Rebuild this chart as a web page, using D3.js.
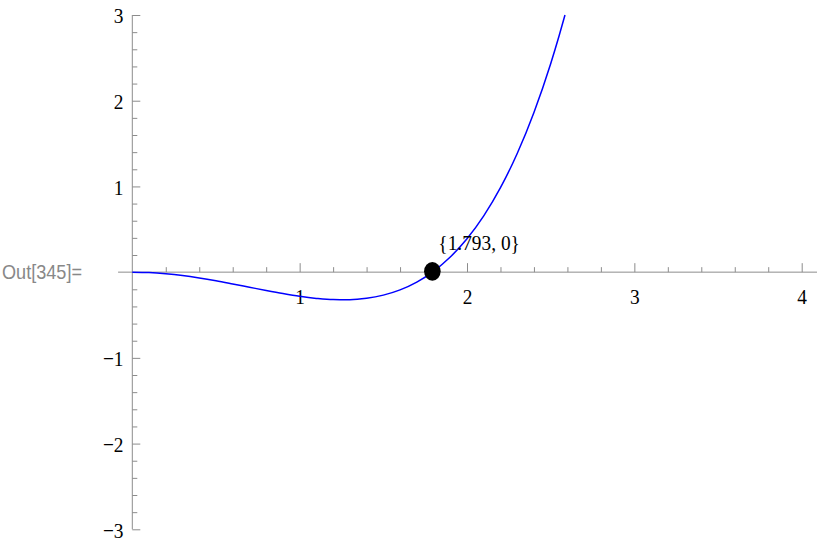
<!DOCTYPE html>
<html><head><meta charset="utf-8">
<script src="https://cdn.jsdelivr.net/npm/d3@7"></script>
<style>
html,body{margin:0;padding:0;background:#fff;}
svg{display:block;}
</style></head>
<body>
<svg id="c" width="817" height="545"></svg>
<script>
// ---- data ----
const curveX = [0,0.1,0.2,0.3,0.4,0.5,0.6,0.7,0.8,0.9,1.0,1.1,1.2,1.3,1.4,1.5,1.6,1.7,1.8,1.9,2.0,2.1,2.2,2.3,2.4,2.5,2.55,2.5855];
const curveY = [0,-0.005,-0.019,-0.040,-0.068,-0.101,-0.138,-0.176,-0.214,-0.250,-0.282,-0.306,-0.320,-0.321,-0.305,-0.268,-0.207,-0.116,0.010,0.176,0.389,0.656,0.985,1.384,1.863,2.432,2.755,3.0];
const rootPoint = [1.793, 0];
const rootLabel = "{1.793, 0}";
const xMajorTicks = [1,2,3,4];
const xMinorTicks = [0.2,0.4,0.6,0.8,1.2,1.4,1.6,1.8,2.2,2.4,2.6,2.8,3.2,3.4,3.6,3.8];
const yMajorTicks = [-3,-2,-1,1,2,3];
const yMinorTicks = [-2.8,-2.6,-2.4,-2.2,-1.8,-1.6,-1.4,-1.2,-0.8,-0.6,-0.4,-0.2,0.2,0.4,0.6,0.8,1.2,1.4,1.6,1.8,2.2,2.4,2.6,2.8];
const outLabel = "Out[345]=";

// ---- layout ----
const svg = d3.select("#c");
const x = d3.scaleLinear().domain([0,4]).range([132.3, 801.7]);
const y = d3.scaleLinear().domain([-3,3]).range([529.3, 15]);
const axisColor = "#8c8c8c";
const serif = "'Liberation Serif','Times New Roman',Times,serif";
const fs = 22, sx = 0.88;

// axis lines
svg.append("line").attr("x1", x(-0.085)).attr("x2", 817).attr("y1", y(0)).attr("y2", y(0))
  .attr("stroke", axisColor).attr("stroke-width", 1);
svg.append("line").attr("x1", x(0)).attr("x2", x(0)).attr("y1", y(3)).attr("y2", y(-3))
  .attr("stroke", axisColor).attr("stroke-width", 1);

// x axis major
const gx = svg.append("g").attr("transform", `translate(0,${y(0)})`)
  .call(d3.axisBottom(x).tickValues(xMajorTicks).tickSize(-9).tickPadding(16).tickFormat(d3.format("d")));
// x axis minor
const gxm = svg.append("g").attr("transform", `translate(0,${y(0)})`)
  .call(d3.axisBottom(x).tickValues(xMinorTicks).tickSize(-5).tickFormat(""));
// y axis major
const gy = svg.append("g").attr("transform", `translate(${x(0)},0)`)
  .call(d3.axisLeft(y).tickValues(yMajorTicks).tickSize(-8).tickPadding(10).tickFormat(d3.format("d")));
const gym = svg.append("g").attr("transform", `translate(${x(0)},0)`)
  .call(d3.axisLeft(y).tickValues(yMinorTicks).tickSize(-5).tickFormat(""));

[gx, gxm, gy, gym].forEach(g => {
  g.select(".domain").remove();
  g.selectAll(".tick line").attr("stroke", axisColor).attr("stroke-width", 1);
  g.selectAll(".tick text").attr("fill", "#000").attr("font-family", serif).attr("font-size", fs)
    .attr("transform", `scale(${sx},1)`);
});
gy.selectAll(".tick text").attr("dy", "0.36em");

// curve
const pts = curveX.map((v, i) => [v, curveY[i]]);
const line = d3.line().x(d => x(d[0])).y(d => y(d[1])).curve(d3.curveMonotoneX);
svg.append("path").datum(pts).attr("d", line)
  .attr("fill", "none").attr("stroke", "#0000ff").attr("stroke-width", 1.5);

// root point
svg.append("ellipse").attr("cx", x(rootPoint[0])).attr("cy", y(rootPoint[1]) - 0.8)
  .attr("rx", 8.3).attr("ry", 9.3).attr("fill", "#000");
svg.append("g").attr("transform", `translate(${x(rootPoint[0]) + 6},${y(rootPoint[1]) - 22.5}) scale(${sx},1)`)
  .append("text").attr("x", 0).attr("y", 0)
  .attr("font-family", serif).attr("font-size", fs).attr("fill", "#000").text(rootLabel);

// Out label
svg.append("text").attr("x", 2).attr("y", 279)
  .attr("font-family", "'Liberation Sans Narrow','Arial Narrow','Liberation Sans',sans-serif")
  .attr("font-size", 21).attr("fill", "#888")
  .attr("textLength", 80).attr("lengthAdjust", "spacingAndGlyphs").text(outLabel);
</script>
</body></html>
